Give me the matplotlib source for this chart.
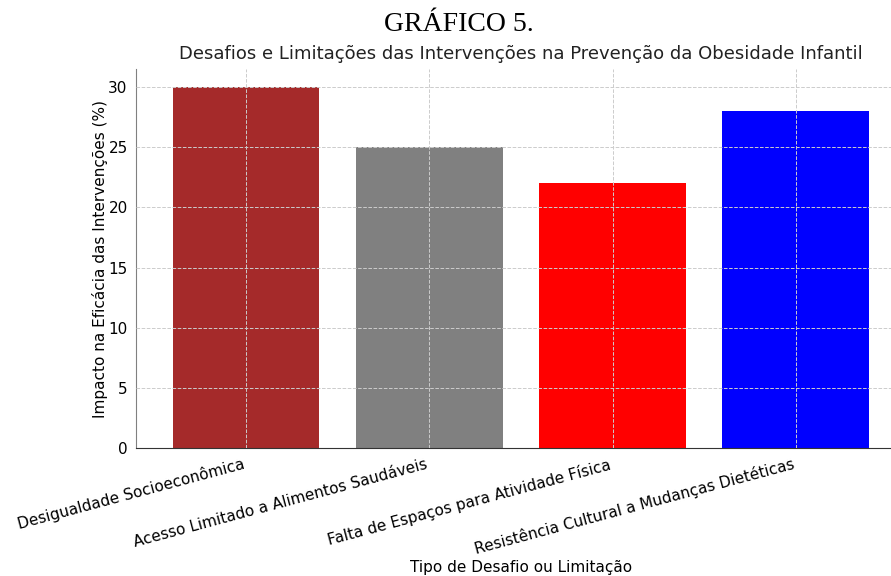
import numpy as np
import matplotlib.pyplot as plt

categorias = ['Desigualdade Socioeconômica',
              'Acesso Limitado a Alimentos Saudáveis',
              'Falta de Espaços para Atividade Física',
              'Resistência Cultural a Mudanças Dietéticas']
impacto = [30, 25, 22, 28]
cores = ['#A52A2A', '#808080', '#FF0000', '#0000FF']

fig = plt.figure(figsize=(8.91, 5.76), dpi=100)
ax = fig.add_axes([0.1526, 0.2222, 0.864, 0.658])

x = np.arange(len(categorias))
ax.bar(x, impacto, color=cores, width=0.8)

ax.set_xticks(x)
ax.set_xticklabels(categorias, rotation=15, ha='right', fontsize=11)
ax.set_xlim(-0.6, 3.6)
ax.set_ylim(0, 31.5)
ax.tick_params(axis='y', labelsize=11, length=0, pad=6)
ax.tick_params(axis='x', length=0, pad=6)

ax.grid(True, linestyle='--', color='#cccccc', linewidth=0.7)
ax.set_axisbelow(False)

for s in ['top', 'right']:
    ax.spines[s].set_visible(False)
ax.spines['left'].set_color('#808080')
ax.spines['bottom'].set_color('#333333')

ax.set_title('Desafios e Limitações das Intervenções na Prevenção da Obesidade Infantil',
             fontsize=13, pad=7, color='#222222')
ax.set_ylabel('Impacto na Eficácia das Intervenções (%)', fontsize=11, labelpad=0)
ax.set_xlabel('Tipo de Desafio ou Limitação', fontsize=11, labelpad=2)

fig.text(0.515, 0.958, 'GRÁFICO 5.', family='Liberation Serif', fontsize=20,
         ha='center', va='center')

plt.savefig('out.png', dpi=100)
